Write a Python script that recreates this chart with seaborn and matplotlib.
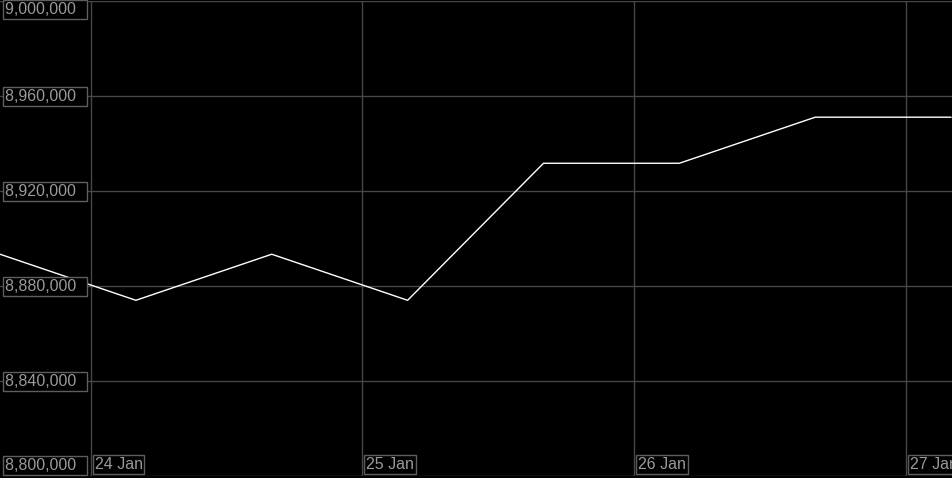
import pandas as pd
import matplotlib
matplotlib.use("Agg")
import matplotlib.pyplot as plt
import seaborn as sns

# data (12-hourly points)
times = ["2024-01-23 16:00", "2024-01-24 04:00", "2024-01-24 16:00", "2024-01-25 04:00",
         "2024-01-25 16:00", "2024-01-26 04:00", "2024-01-26 16:00", "2024-01-27 04:00"]
values = [8893500, 8874100, 8893500, 8874100, 8931800, 8931800, 8951200, 8951200]

y_ticks = [8800000, 8840000, 8880000, 8920000, 8960000, 9000000]
x_ticks = ["2024-01-24", "2024-01-25", "2024-01-26", "2024-01-27"]

grid_col = "#474747"
text_col = "#9a9a9a"
box_col = "#5e5e5e"

sns.set_style("dark", {"axes.facecolor": "black", "figure.facecolor": "black"})
plt.rcParams['font.family'] = ['Liberation Sans', 'DejaVu Sans']

df = pd.DataFrame({"time": pd.to_datetime(times), "value": values})

fig = plt.figure(figsize=(9.53, 4.78), dpi=100)
ax = fig.add_axes([0, 0.0036, 1, 0.9937])
ax.set_facecolor("black")

sns.lineplot(data=df, x="time", y="value", ax=ax, color="white", linewidth=1.0)

ax.set_xlim(df["time"].iloc[0], df["time"].iloc[-1] + pd.Timedelta(minutes=10))
ax.set_ylim(y_ticks[0], y_ticks[-1])
ax.set_yticks(y_ticks)
ax.set_xticks(pd.to_datetime(x_ticks))
ax.grid(True, color=grid_col, linewidth=1.0)
ax.set_axisbelow(True)
ax.tick_params(left=False, bottom=False, labelleft=False, labelbottom=False)
ax.set_xlabel("")
ax.set_ylabel("")
for s in ax.spines.values():
    s.set_visible(False)

bbox = dict(boxstyle="square,pad=0.12", facecolor="black", edgecolor=box_col, linewidth=1.0)

# y labels sit inside the plot, boxed; the edge ones are pushed inside
for v in y_ticks:
    va = "center"
    off = 0
    if v == y_ticks[-1]:
        va, off = "top", -1
    elif v == y_ticks[0]:
        va, off = "bottom", 3
    ax.annotate(f"{v:,}  ", xy=(0, v), xycoords=("axes fraction", "data"),
                xytext=(5, off), textcoords="offset pixels", ha="left", va=va,
                color=text_col, fontsize=11.5, bbox=bbox, zorder=5)

# date labels at the bottom, right of each day line
for d in pd.to_datetime(x_ticks):
    ax.annotate(d.strftime("%d %b"), xy=(d, 0), xycoords=("data", "axes fraction"),
                xytext=(4, 4), textcoords="offset pixels", ha="left", va="bottom",
                color=text_col, fontsize=11.5, bbox=bbox, zorder=5)

fig.savefig("out.png", dpi=100, facecolor="black")
